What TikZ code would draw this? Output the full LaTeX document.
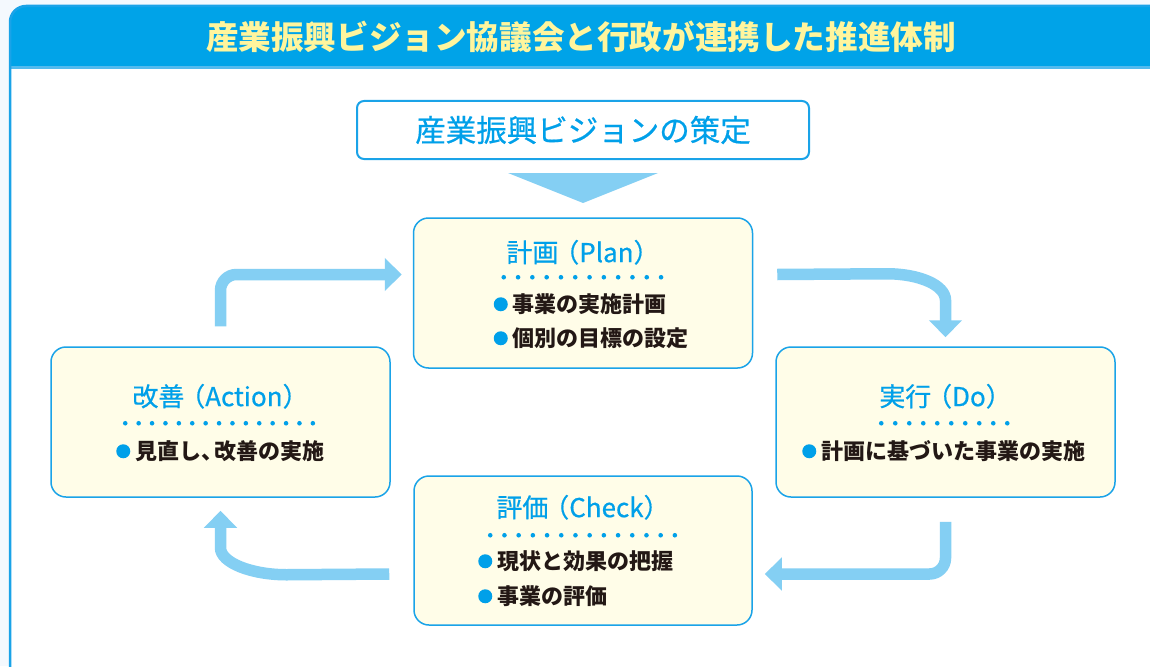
\documentclass[tikz,border=0pt]{standalone}
\usepackage{fontspec}
\setmainfont{Noto Sans CJK JP}
\newfontfamily\jpmid[FakeBold=0.6]{Noto Sans CJK JP}
\usepackage{tikz}
\usetikzlibrary{arrows.meta,calc,positioning}
\definecolor{barblue}{HTML}{00A3E8}
\definecolor{lineblue}{HTML}{1AA3E8}
\definecolor{dotblue}{HTML}{00A0E9}
\definecolor{arrowblue}{HTML}{84CFF3}
\definecolor{creamfill}{HTML}{FFFDE8}
\definecolor{titleyellow}{HTML}{FFF59D}
\definecolor{inkdark}{HTML}{231815}
\definecolor{pagebg}{HTML}{F4F9FE}
\tikzset{
    %Define standard arrow tip
    >={Triangle[width=32pt,length=17pt]},
    %Define style for boxes
    cyclebox/.style={
           rectangle,
           rounded corners=15pt,
           draw=lineblue, line width=1.5pt,
           fill=creamfill,
           minimum width=339pt,
           minimum height=150pt,
           inner sep=0pt},
    visionbox/.style={
           rectangle,
           rounded corners=7pt,
           draw=lineblue, line width=2pt,
           fill=white,
           minimum width=452pt,
           minimum height=58pt,
           font=\jpmid\fontsize{30.5}{30.5}\selectfont,
           text=dotblue,
           inner sep=0pt},
    boxtitle/.style={
           font=\jpmid\fontsize{26}{26}\selectfont,
           text=dotblue,
           inner sep=0pt},
    itemtext/.style={
           anchor=west,
           font=\fontsize{22}{22}\selectfont\bfseries,
           text=inkdark,
           inner sep=0pt},
    % Define arrow style
    flow/.style={
           ->,
           draw=arrowblue,
           line width=11.5pt}
}

\begin{document}
\begin{tikzpicture}[x=1pt,y=-1pt]
\useasboundingbox (0,0) rectangle (1150,666);
\clip (0,0) rectangle (1150,666);
\fill[pagebg] (0,0) rectangle (1150,666);

 %frame and heading
\fill[white] (10,6) [rounded corners=16pt] rectangle (1190,690);
\begin{scope}
  \clip[rounded corners=16pt] (10,6) rectangle (1190,690);
  \fill[barblue] (10,6) rectangle (1190,66);
  \draw[lineblue!75, line width=2.5pt] (10,67.5) -- (1190,67.5);
\end{scope}
\draw[lineblue, line width=2.5pt, rounded corners=16pt] (10,6) rectangle (1190,690);
\node[font=\fontsize{32.6}{32.6}\selectfont\bfseries, text=titleyellow, inner sep=0pt]
  (head) at (581,37) {産業振興ビジョン協議会と行政が連携した推進体制};

 %nodes
\node[visionbox] (vision) at (583,130) {産業振興ビジョンの策定};
\node[cyclebox] (plan) at (583,293) {};
\node[cyclebox] (do) at (945.5,422) {};
\node[cyclebox, minimum width=338pt, minimum height=149pt] (check) at (583,550.5) {};
\node[cyclebox] (action) at (220.5,422) {};

\coordinate (tri) at ($(vision.south)+(0,13)$);
\fill[arrowblue] ($(tri)+(-75,0)$) -- ($(tri)+(75,0)$) -- ($(tri)+(0,30)$) -- cycle;

 %titles
\node[boxtitle] (plantitle) at ($(plan.north)+(0,35)$) {計画\kern-0.2em（Plan）};
\node[boxtitle] (dotitle) at ($(do.north)+(0,50)$) {実行\kern-0.2em（Do）};
\node[boxtitle] (checktitle) at ($(check.north)+(0,32)$) {評価\kern-0.2em（Check）};
\node[boxtitle] (actiontitle) at ($(action.north)+(0,50)$) {改善\kern-0.2em（Action）};

 %dotted rules
\foreach \i in {0,...,11}
  \fill[dotblue] ($(plan.north west)+(91+\i*14.3,60)$) circle (2.3pt);
\foreach \i in {0,...,9}
  \fill[dotblue] ($(do.north west)+(106+\i*14,77)$) circle (2.3pt);
\foreach \i in {0,...,13}
  \fill[dotblue] ($(check.north west)+(77+\i*14.2,60)$) circle (2.3pt);
\foreach \i in {0,...,14}
  \fill[dotblue] ($(action.north west)+(75+\i*13.4,77)$) circle (2.3pt);

 %items
\node[itemtext] (p1) at ($(plan.north west)+(100,87)$) {事業の実施計画};
\node[itemtext] (p2) at ($(plan.north west)+(100,121)$) {個別の目標の設定};
\node[itemtext] (d1) at ($(do.north west)+(46,105)$) {計画に基づいた事業の実施};
\node[itemtext] (c1) at ($(check.north west)+(84,86)$) {現状と効果の把握};
\node[itemtext] (c2) at ($(check.north west)+(84,121)$) {事業の評価};
\node[itemtext] (a1) at ($(action.north west)+(85,105)$) {見直し、\kern-0.4em 改善の実施};
\foreach \n in {p1,p2,d1,c1,c2,a1}
  \fill[dotblue] ($(\n.west)+(-12,0)$) circle (7pt);

 %cycle arrows
\coordinate (pd0) at ($(plan.east)+(24,-18.5)$);
\coordinate (pd3) at ($(do.north)+(0,-9)$);
\coordinate (ca0) at ($(check.west)+(-24,23.5)$);
\coordinate (ca3) at ($(action.south)+(0,13)$);
\draw[flow, rounded corners=16pt] ($(action.north)+(0,-20)$) |- ($(plan.west)+(-11,-18.5)$);
\draw[flow] (pd0) -- ($(pd3)+(-59,-63.5)$) .. controls +(33,0) and +(0,-15) .. ($(pd3)+(0,-37)$) -- (pd3);
\draw[flow, rounded corners=16pt] ($(do.south)+(0,24)$) |- ($(check.east)+(12,23.5)$);
\draw[flow] (ca0) -- ($(ca3)+(66,64)$) .. controls +(-35,0) and +(0,15) .. ($(ca3)+(0,37)$) -- (ca3);
\end{tikzpicture}
\end{document}
